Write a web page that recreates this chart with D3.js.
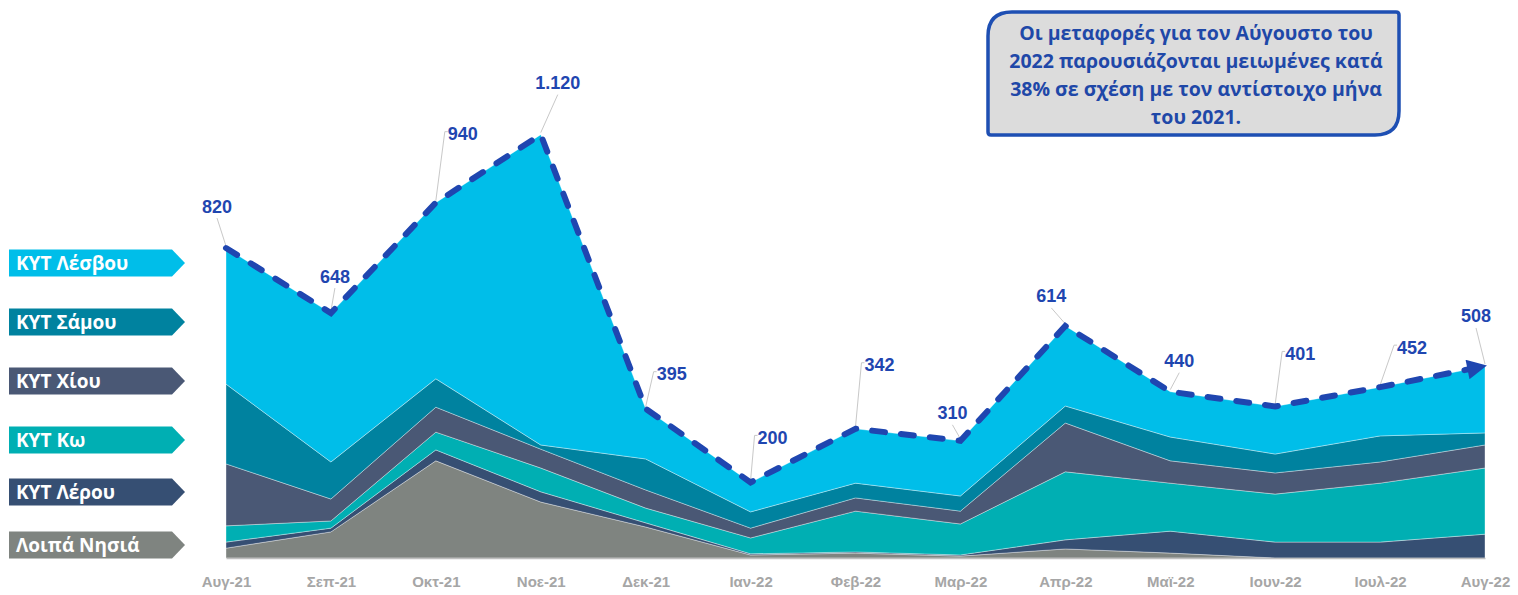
<!DOCTYPE html>
<html>
<head>
<meta charset="utf-8">
<script src="https://cdn.jsdelivr.net/npm/d3@7"></script>
<style>
  html, body { margin: 0; padding: 0; background: #fff; }
  svg { display: block; font-family: "Liberation Sans", Arial, sans-serif; }
</style>
</head>
<body>
<svg id="chart" width="1518" height="595"></svg>
<script>
// months on the x axis
const months = ["Αυγ-21", "Σεπ-21", "Οκτ-21", "Νοε-21", "Δεκ-21", "Ιαν-22", "Φεβ-22",
                "Μαρ-22", "Απρ-22", "Μαϊ-22", "Ιουν-22", "Ιουλ-22", "Αυγ-22"];

// series, bottom of the stack first
const other  = [26, 69, 257, 148, 82, 8, 13, 5, 24, 13, 0, 0, 0];
const leros  = [16, 10, 29, 27, 11, 3, 3, 3, 24, 58, 42, 42, 63];
const kos    = [43, 19, 47, 63, 39, 42, 108, 82, 180, 127, 127, 156, 175];
const chios  = [164, 58, 66, 50, 48, 26, 35, 34, 129, 59, 56, 56, 61];
const samos  = [211, 98, 75, 11, 82, 43, 39, 40, 45, 63, 50, 69, 32];
const lesvos = [360, 394, 466, 821, 133, 78, 144, 146, 212, 120, 126, 129, 177];

const totals = [820, 648, 940, 1120, 395, 200, 342, 310, 614, 440, 401, 452, 508];

const seriesNames = ["Λοιπά Νησιά", "ΚΥΤ Λέρου", "ΚΥΤ Κω", "ΚΥΤ Χίου", "ΚΥΤ Σάμου", "ΚΥΤ Λέσβου"];
const seriesData = [other, leros, kos, chios, samos, lesvos];

const noteLines = ["Οι μεταφορές για τον Αύγουστο του",
                   "2022 παρουσιάζονται μειωμένες κατά",
                   "38% σε σχέση με τον αντίστοιχο μήνα",
                   "του 2021."];

// styling / layout
const colors = ["#7f8480", "#364f73", "#00afb3", "#4a5875", "#00829f", "#00bee9"];
const legendY = [545, 492, 440, 381, 322, 263];
// label offsets from each total point (text centre), and leader style
const labelOff = [[-9, -42], [4, -37], [27, -69], [17, -52], [26, -35], [22, -45], [24, -64],
                  [-8, -28], [-14, -30], [9, -31], [25, -53], [32, -40], [-9, -50]];
const elbow = [false, false, true, false, true, true, true, false, false, false, true, true, false];

const svg = d3.select("#chart");
const blue = "#1f46b0";

const x = d3.scalePoint().domain(months).range([226, 1485]);
const y = d3.scaleLinear().domain([0, 1200]).range([558, 558 - 1200 * 0.378]);

const rows = months.map((m, i) => {
  const r = { month: m };
  seriesNames.forEach((s, k) => r[s] = seriesData[k][i]);
  return r;
});

const stack = d3.stack().keys(seriesNames);
const layers = stack(rows);

const area = d3.area()
  .x(d => x(d.data.month))
  .y0(d => y(d[0]))
  .y1(d => y(d[1]));

svg.append("g").selectAll("path")
  .data(layers)
  .join("path")
  .attr("d", area)
  .attr("fill", (d, i) => colors[i])
  .attr("stroke", "rgba(255,255,255,0.45)")
  .attr("stroke-width", 0.8);

// x axis
const xAxis = d3.axisBottom(x).tickSize(0).tickPadding(18);
const gx = svg.append("g").attr("transform", "translate(0,558)").call(xAxis);
gx.select(".domain").attr("stroke", "#bfbfbf").attr("stroke-width", 1.5);
gx.selectAll("text")
  .attr("fill", "#a6a6a6")
  .attr("font-size", 15)
  .attr("font-weight", "bold")
  .attr("font-family", "'Liberation Sans Narrow', 'Liberation Sans', sans-serif");

// total dashed line with arrow
svg.append("defs").append("marker")
  .attr("id", "arrow")
  .attr("viewBox", "0 0 10 10")
  .attr("refX", 9).attr("refY", 5)
  .attr("markerWidth", 3.6).attr("markerHeight", 3.3)
  .attr("orient", "auto")
  .append("path")
  .attr("d", "M0,0 L10,5 L0,10 Z")
  .attr("fill", blue);

const line = d3.line()
  .x((d, i) => x(months[i]))
  .y(d => y(d));

// leader lines under the labels
const leaders = svg.append("g");

svg.append("path")
  .datum(totals)
  .attr("d", line)
  .attr("fill", "none")
  .attr("stroke", blue)
  .attr("stroke-width", 6)
  .attr("stroke-dasharray", "13 16")
  .attr("stroke-linecap", "round")
  .attr("marker-end", "url(#arrow)");

// total labels
const fmt = d3.formatLocale({ decimal: ",", thousands: ".", grouping: [3], currency: ["", "€"] }).format(",d");

const lab = svg.append("g");
totals.forEach((v, i) => {
  const px = x(months[i]), py = y(v);
  const tx = px + labelOff[i][0], ty = py + labelOff[i][1];
  const t = lab.append("text")
    .attr("x", tx).attr("y", ty + 6.5)
    .attr("text-anchor", "middle")
    .attr("fill", blue)
    .attr("font-size", 18)
    .attr("font-weight", "bold")
    .text(fmt(v));
  const w = t.node().getComputedTextLength();
  if (elbow[i]) {
    const lx = tx - w / 2 - 3;
    leaders.append("path")
      .attr("d", `M${lx + 3},${ty - 2} L${lx},${ty - 2} L${px},${py - 2}`)
      .attr("fill", "none")
      .attr("stroke", "#c8c8c8")
      .attr("stroke-width", 1);
  } else if (Math.abs(ty - py) > 27) {
    leaders.append("path")
      .attr("d", `M${tx},${ty + 12} L${px},${py - 2}`)
      .attr("fill", "none")
      .attr("stroke", "#c8c8c8")
      .attr("stroke-width", 1);
  }
});

// legend tags on the left
const leg = svg.append("g");
seriesNames.forEach((s, i) => {
  const cy = legendY[i];
  const h = 27;
  leg.append("path")
    .attr("d", `M9,${cy - h / 2} L172,${cy - h / 2} L185,${cy} L172,${cy + h / 2} L9,${cy + h / 2} Z`)
    .attr("fill", colors[i]);
  leg.append("text")
    .attr("x", 16).attr("y", cy + 7)
    .attr("fill", "#fff")
    .attr("font-size", 19)
    .attr("font-weight", "bold")
    .attr("font-family", "'Open Sans', sans-serif")
    .text(s);
});

// note box top right
const bx0 = 988, by0 = 12, bx1 = 1399, by1 = 135, r = 24, r2 = 3;
svg.append("path")
  .attr("d", `M${bx0},${by0 + r} Q${bx0},${by0} ${bx0 + r},${by0} L${bx1 - r2},${by0} Q${bx1},${by0} ${bx1},${by0 + r2}
              L${bx1},${by1 - r} Q${bx1},${by1} ${bx1 - r},${by1} L${bx0 + r2},${by1} Q${bx0},${by1} ${bx0},${by1 - r2} Z`)
  .attr("fill", "#dcdcdc")
  .attr("stroke", "#1e4fb3")
  .attr("stroke-width", 3.5);

svg.append("g").selectAll("text")
  .data(noteLines)
  .join("text")
  .attr("x", 1196)
  .attr("y", (d, i) => 40 + i * 28)
  .attr("text-anchor", "middle")
  .attr("fill", "#1f48a8")
  .attr("font-size", 19.5)
  .attr("font-weight", "bold")
  .attr("font-family", "'Open Sans', sans-serif")
  .text(d => d);
</script>
</body>
</html>
